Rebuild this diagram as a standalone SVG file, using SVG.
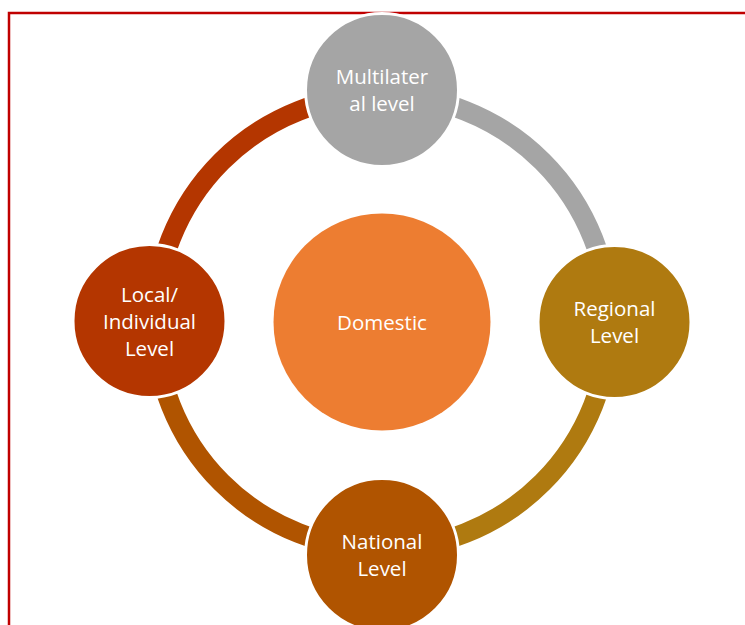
<svg xmlns="http://www.w3.org/2000/svg" width="745" height="625" viewBox="0 0 745 625">
  <style>
    .frame { fill: none; stroke: #C00000; stroke-width: 2.5; }
    .arc { fill: none; stroke-width: 20; stroke-linecap: butt; }
    .node { stroke: #FFFFFF; stroke-width: 3; }
    .label { font-family: "Open Sans", "Noto Sans", "Liberation Sans", sans-serif; font-size: 20.5px; fill: #FFFFFF; text-anchor: middle; }
  </style>
  <rect width="745" height="625" fill="#FFFFFF"/>
  <!-- page frame -->
  <path class="frame" d="M9 625 V13 H745"/>

  <!-- cycle connectors -->
  <g id="connectors">
    <path class="arc" stroke="#B43600" d="M155 322 A227 227 0 0 1 382 95"/>
    <path class="arc" stroke="#A5A5A5" d="M382 95 A227 227 0 0 1 609 322"/>
    <path class="arc" stroke="#AF7A10" d="M609 322 A227 227 0 0 1 382 549"/>
    <path class="arc" stroke="#B05400" d="M382 549 A227 227 0 0 1 155 322"/>
  </g>

  <g id="domestic">
    <circle cx="382" cy="322" r="108.5" fill="#ED7D31"/>
    <text class="label" x="382" y="329.5">Domestic</text>
  </g>

  <g id="multilateral">
    <circle class="node" cx="382" cy="90" r="76.5" fill="#A5A5A5"/>
    <text class="label" x="382" y="84">Multilater</text>
    <text class="label" x="382" y="111">al level</text>
  </g>

  <g id="regional">
    <circle class="node" cx="614.5" cy="322" r="76.5" fill="#AF7A10"/>
    <text class="label" x="614.5" y="316">Regional</text>
    <text class="label" x="614.5" y="343">Level</text>
  </g>

  <g id="national">
    <circle class="node" cx="382" cy="555" r="76.5" fill="#B05400"/>
    <text class="label" x="382" y="549">National</text>
    <text class="label" x="382" y="576">Level</text>
  </g>

  <g id="local">
    <circle class="node" cx="149.5" cy="321" r="76.5" fill="#B43600"/>
    <text class="label" x="149.5" y="301.5">Local/</text>
    <text class="label" x="149.5" y="328.5">Individual</text>
    <text class="label" x="149.5" y="355.5">Level</text>
  </g>
</svg>
